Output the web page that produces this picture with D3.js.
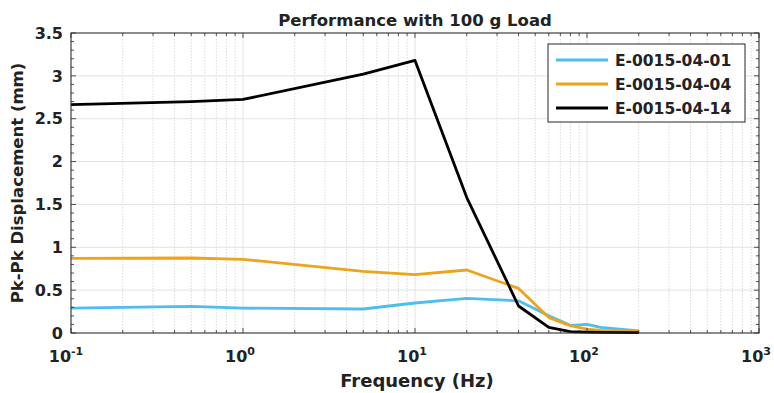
<!DOCTYPE html>
<html><head><meta charset="utf-8">
<script src="https://cdn.jsdelivr.net/npm/d3@7"></script>
<style>
body{margin:0;background:#fff;}
text{font-family:"DejaVu Sans",sans-serif;font-weight:700;fill:#222;}
</style></head><body>
<svg id="c" width="774" height="393"></svg>
<script>
const freq = [0.1, 0.5, 1, 5, 10, 20, 40, 60, 80, 100, 120, 200];
const s01 = [0.29, 0.31, 0.29, 0.28, 0.35, 0.405, 0.375, 0.20, 0.09, 0.10, 0.065, 0.025];
const s04 = [0.87, 0.875, 0.86, 0.72, 0.68, 0.735, 0.52, 0.18, 0.085, 0.045, 0.03, 0.02];
const s14 = [2.665, 2.70, 2.725, 3.02, 3.18, 1.58, 0.315, 0.065, 0.015, 0.01, 0.008, 0.005];
const seriesNames = ["E-0015-04-01", "E-0015-04-04", "E-0015-04-14"];
const colors = ["#4DBEEE", "#EDA31A", "#000000"];
const yTicks = [0, 0.5, 1, 1.5, 2, 2.5, 3, 3.5];
const xTicks = [0.1, 1, 10, 100, 1000];
const xExp = ["-1", "0", "1", "2", "3"];

const svg = d3.select("#c");
const L = 71, R = 759, T = 33, B = 333;
const x = d3.scaleLog().domain([0.1, 1000]).range([L, R]);
const y = d3.scaleLinear().domain([0, 3.5]).range([B, T]);

const minors = [];
for (let e = -1; e < 3; e++) for (let m = 2; m <= 9; m++) minors.push(m * Math.pow(10, e));
svg.append("g").selectAll("line").data(minors).join("line")
  .attr("x1", d => x(d)).attr("x2", d => x(d)).attr("y1", T).attr("y2", B)
  .attr("stroke", "#c8c8c8").attr("stroke-width", 0.7).attr("stroke-dasharray", "1.5,1.5");
svg.append("g").selectAll("line").data(xTicks).join("line")
  .attr("x1", d => x(d)).attr("x2", d => x(d)).attr("y1", T).attr("y2", B)
  .attr("stroke", "#e2e2e2").attr("stroke-width", 1);
svg.append("g").selectAll("line").data(yTicks).join("line")
  .attr("x1", L).attr("x2", R).attr("y1", d => y(d)).attr("y2", d => y(d))
  .attr("stroke", "#e2e2e2").attr("stroke-width", 1);

const data = [s01, s04, s14];
const line = d3.line().x((d, i) => x(freq[i])).y(d => y(d));
data.forEach((s, k) => {
  svg.append("path").datum(s).attr("d", line).attr("fill", "none")
    .attr("stroke", colors[k]).attr("stroke-width", 2.8).attr("stroke-linejoin", "round");
});

const ax = svg.append("g").attr("stroke", "#262626");
const yMinor = d3.range(0, 3.51, 0.1);
const tk = 5, tkm = 3;
const isMajor = d => Math.abs(d*2 - Math.round(d*2)) < 1e-6;
ax.selectAll(".ym").data(yMinor).join("line")
  .attr("x1", L).attr("x2", d => L + (isMajor(d) ? tk : tkm))
  .attr("y1", d => y(d)).attr("y2", d => y(d)).attr("stroke-width", 0.8);
ax.selectAll(".ymr").data(yMinor).join("line")
  .attr("x1", R).attr("x2", d => R - (isMajor(d) ? tk : tkm))
  .attr("y1", d => y(d)).attr("y2", d => y(d)).attr("stroke-width", 0.8);
const allX = minors.concat(xTicks);
ax.selectAll(".xb").data(allX).join("line")
  .attr("x1", d => x(d)).attr("x2", d => x(d))
  .attr("y1", B).attr("y2", d => B - (xTicks.includes(d) ? tk : tkm)).attr("stroke-width", 0.8);
ax.selectAll(".xt").data(allX).join("line")
  .attr("x1", d => x(d)).attr("x2", d => x(d))
  .attr("y1", T).attr("y2", d => T + (xTicks.includes(d) ? tk : tkm)).attr("stroke-width", 0.8);
svg.append("rect").attr("x", L).attr("y", T).attr("width", R - L).attr("height", B - T)
  .attr("fill", "none").attr("stroke", "#262626").attr("stroke-width", 1);

svg.append("g").selectAll("text").data(yTicks).join("text")
  .attr("x", L - 8).attr("y", d => y(d)).attr("dy", "0.36em").attr("text-anchor", "end")
  .attr("font-size", 16).text(d => d);
const xl = svg.append("g").selectAll("text").data(xTicks).join("text")
  .attr("x", (d, i) => x(d) - (xExp[i].length > 1 ? 5 : 3)).attr("y", 362).attr("text-anchor", "middle")
  .attr("font-size", 16);
xl.append("tspan").text("10");
xl.append("tspan").attr("dy", -7).attr("font-size", 11).text((d, i) => xExp[i]);

svg.append("text").attr("x", 415).attr("y", 26).attr("text-anchor", "middle")
  .attr("font-size", 16.5).text("Performance with 100 g Load");
svg.append("text").attr("x", 417).attr("y", 387).attr("text-anchor", "middle")
  .attr("font-size", 18).text("Frequency (Hz)");
svg.append("text").attr("transform", `translate(23,${(T + B) / 2}) rotate(-90)`)
  .attr("text-anchor", "middle").attr("font-size", 16.5).text("Pk-Pk Displacement (mm)");

const lg = svg.append("g");
lg.append("rect").attr("x", 548).attr("y", 44).attr("width", 197).attr("height", 78)
  .attr("fill", "#fff").attr("stroke", "#262626").attr("stroke-width", 1);
seriesNames.forEach((n, k) => {
  const yy = 60 + k * 24;
  lg.append("line").attr("x1", 556).attr("x2", 608).attr("y1", yy).attr("y2", yy)
    .attr("stroke", colors[k]).attr("stroke-width", 2.8);
  lg.append("text").attr("x", 615).attr("y", yy).attr("dy", "0.36em").attr("font-size", 15.5).text(n);
});
</script></body></html>
